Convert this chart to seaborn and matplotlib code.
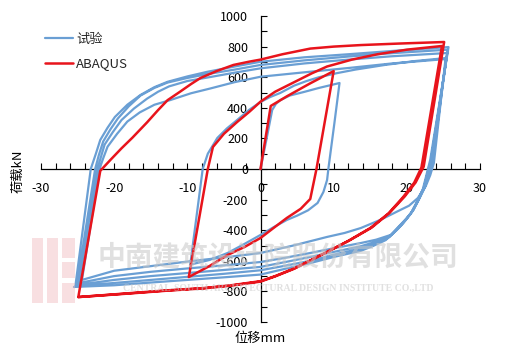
import matplotlib
matplotlib.use("Agg")
import matplotlib.pyplot as plt
from matplotlib.ticker import MultipleLocator
from matplotlib.patches import Rectangle
import seaborn as sns
import pandas as pd

# ---------------- data ----------------
series_names = ["试验", "ABAQUS"]

# Test (blue) hysteresis path: displacement (mm)
test_x = [
    # first small cycle, loading
    0, 0.8, 1.6, 2.1, 2.7, 4.0, 5.9, 8.0, 10.8,
    # small unloading
    10.1, 9.3, 9.1, 8.6, 7.8, 6.5, 5.0, 3.6, 1.8, 0, -2.2, -4.5, -7.0, -9.6,
    # reloading to first large peak
    -7.9, -7.2, -5.9, -4.6, -3.2, -1.6, 0, 1.3, 2.7, 4.6, 6.3, 8.0, 10.5, 13, 17, 21, 25.3,
    # large cycle 1
    23.7, 23.2, 22.6, 21.5, 20.3, 19.1, 16.5, 13.7, 11.5, 9.1, 4.5, 0, -5, -10, -15, -20, -24.4,
    -22.0, -21.5, -20.9, -19.6, -18.2, -16.5, -14.5, -12.3, -9.5, -6.8, -3.5, 0, 6, 12, 18, 25.4,
    # large cycle 2
    23.5, 23.0, 22.5, 21.7, 20.9, 20.0, 19.1, 17.8, 15.8, 13.7, 10, 6.8, 3.4, 0, -5, -10, -15, -20, -24.8,
    -22.3, -21.8, -21.3, -20.2, -19.0, -17.3, -15.5, -14.0, -12.5, -10, -7.0, -3.5, 0, 6, 12, 18, 25.5,
    # large cycle 3
    23.4, 22.9, 22.4, 21.6, 20.8, 19.9, 19.0, 17.6, 15.6, 13.7, 10, 6.8, 3.4, 0, -5, -10, -15, -20, -25.1,
    -22.6, -22.1, -21.5, -20.5, -19.5, -18.0, -16.4, -14.5, -12.7, -10, -7.3, -3.5, 0, 6, 12, 18, 25.6,
    # large cycle 4
    23.3, 22.8, 22.3, 21.5, 20.6, 19.7, 18.8, 17.3, 15.5, 13.7, 10, 6.8, 3.4, 0, -5, -10, -15, -20, -25.3,
    -23.2, -22.5, -21.9, -20.9, -19.9, -18.2, -16.4, -14.5, -12.7, -10, -7.3, -3.5, 0, 6, 12, 19, 25.7,
    # last unloading
    23.2, 22.7, 22.2, 21.4, 20.5, 19.5, 18.6, 17.1, 15.4, 13.7, 10, 6.8, 3.4, 0, -5, -10, -15, -20, -25.5,
]
# Test (blue) load (kN)
test_y = [
    0, 190, 386, 425, 450, 480, 503, 530, 562,
    300, 10, -72, -150, -222, -270, -305, -333, -380, -431, -490, -549, -595, -625,
    0, 100, 203, 265, 320, 385, 438, 470, 497, 545, 575, 600, 627, 650, 680, 705, 725,
    40, -40, -110, -190, -240, -268, -330, -386, -418, -444, -500, -549, -578, -605, -635, -665, -725,
    0, 70, 146, 230, 310, 370, 420, 451, 495, 527, 568, 603, 632, 660, 690, 719,
    50, -35, -117, -195, -268, -320, -366, -431, -462, -484, -518, -549, -580, -608, -630, -650, -672, -700, -745,
    0, 80, 160, 240, 320, 395, 460, 505, 540, 575, 600, 630, 658, 690, 715, 737, 758,
    55, -30, -120, -200, -275, -330, -375, -445, -478, -505, -542, -575, -608, -640, -660, -680, -700, -725, -758,
    0, 90, 180, 260, 330, 410, 480, 530, 565, 595, 620, 650, 680, 710, 735, 757, 780,
    55, -35, -125, -205, -285, -340, -390, -455, -490, -520, -560, -600, -632, -662, -685, -705, -725, -745, -765,
    0, 100, 190, 270, 340, 420, 484, 535, 570, 605, 635, 670, 701, 730, 750, 775, 797,
    60, -35, -130, -215, -295, -355, -400, -465, -503, -535, -575, -615, -652, -690, -708, -725, -742, -760, -771,
]

# ABAQUS (red) path: displacement (mm)
fem_x = [
    0, 1.4, 3.6, 6.8, 10.0,
    7.65, 6.8, 5.5, 3.6, 1.8, 0, -2.2, -4.5, -7.0, -9.8,
    -7.2, -6.5, -5.0, -3.2, -1.5, 0, 2.0, 4.5, 7.0, 9.1, 12.5, 16, 20, 24.8,
    22.0, 21.0, 19.5, 17.5, 15.0, 12.0, 9.1, 6.5, 4.6, 2.0, 0, -4.0, -7.7, -12.7, -18, -24.9,
    -21.9, -20.5, -19.0, -17.5, -15.5, -14.0, -12.7, -11.0, -9.5, -8.2, -6.0, -3.7, -1.5, 0,
    3.0, 6.8, 10.0, 13.7, 19.0, 25.1,
    22.3, 21.2, 19.7, 17.6, 15.2, 12.1, 9.2, 6.6, 4.6, 2.0, 0, -4.0, -7.7, -12.7, -18, -24.9,
]
# ABAQUS (red) load (kN)
fem_y = [
    0, 412, 475, 560, 640,
    0, -196, -260, -320, -385, -451, -510, -562, -635, -706,
    0, 144, 230, 307, 375, 440, 505, 565, 625, 670, 715, 750, 780, 804,
    10, -90, -183, -290, -386, -470, -542, -605, -650, -700, -733, -760, -778, -793, -812, -837,
    -12, 60, 135, 205, 305, 385, 450, 505, 555, 595, 640, 680, 702, 715,
    750, 787, 800, 810, 820, 830,
    15, -88, -180, -288, -383, -468, -540, -603, -652, -702, -736, -762, -780, -795, -814, -837,
]

x_ticks = [-30, -20, -10, 0, 10, 20, 30]
y_ticks = [-1000, -800, -600, -400, -200, 0, 200, 400, 600, 800, 1000]

# ---------------- build table ----------------
df = pd.concat([
    pd.DataFrame({"x": test_x, "y": test_y, "series": series_names[0]}),
    pd.DataFrame({"x": fem_x, "y": fem_y, "series": series_names[1]}),
], ignore_index=True)

# ---------------- style ----------------
sns.set_theme(style="white")
plt.rcParams["font.family"] = ["Noto Sans CJK SC", "DejaVu Sans"]
plt.rcParams["axes.unicode_minus"] = False

fig = plt.figure(figsize=(5.2, 3.52), dpi=100)
fig.patch.set_facecolor("white")
ax = fig.add_axes([41 / 520, 30 / 352, 439 / 520, 306 / 352])
ax.set_facecolor("none")

palette = {"试验": "#6a9fd4", "ABAQUS": "#e8141c"}
for name, lw in [("试验", 1.6), ("ABAQUS", 1.8)]:
    sub = df[df["series"] == name]
    sns.lineplot(data=sub, x="x", y="y", sort=False, estimator=None,
                 color=palette[name], linewidth=lw, ax=ax, label=name)

ax.set_xlim(-30, 30)
ax.set_ylim(-1000, 1000)
ax.set_xticks(x_ticks)
ax.set_yticks(y_ticks)
ax.xaxis.set_minor_locator(MultipleLocator(2))
ax.yaxis.set_minor_locator(MultipleLocator(100))
ax.set_xticklabels([str(v) for v in x_ticks])
ax.set_yticklabels([str(v) for v in y_ticks])

for s in ["top", "right"]:
    ax.spines[s].set_visible(False)
ax.spines["left"].set_position(("data", 0))
ax.spines["bottom"].set_position(("data", 0))
for s in ["left", "bottom"]:
    ax.spines[s].set_color("black")
    ax.spines[s].set_linewidth(0.9)
    ax.spines[s].set_zorder(1)

ax.tick_params(which="both", direction="in", length=4, width=0.8,
               color="black", labelsize=9, labelcolor="black")
ax.tick_params(axis="x", which="both", pad=9.5, bottom=True)
ax.tick_params(axis="y", which="both", pad=9, left=True)
ax.set_xlabel("")
ax.set_ylabel("")

fig.text(260 / 520, 1 - 338 / 352, "位移mm", ha="center", va="center",
         fontsize=9.5, color="black")
fig.text(18 / 520, 1 - 171 / 352, "荷载kN", ha="center", va="center",
         rotation=90, fontsize=9.5, color="black")

handles, labels = ax.get_legend_handles_labels()
ax.legend(handles, labels, loc="upper left",
          bbox_to_anchor=(45 / 520, 1 - 33 / 352),
          bbox_transform=fig.transFigure, frameon=False, fontsize=9.5,
          handlelength=2.1, handletextpad=0.25, labelspacing=0.85,
          borderpad=0, borderaxespad=0)

# faint watermark as in the reference
for (x0, y0, w, h) in [(32, 238, 11, 65), (47, 238, 11, 65),
                       (62, 238, 13, 20), (62, 262, 13, 16), (62, 283, 13, 20)]:
    fig.patches.append(Rectangle((x0 / 520, 1 - (y0 + h) / 352), w / 520, h / 352,
                                 transform=fig.transFigure, color="#f0b8bd",
                                 alpha=0.45, zorder=5, linewidth=0))
fig.text(278 / 520, 1 - 258 / 352, "中南建筑设计院股份有限公司", ha="center",
         va="center", fontsize=20, fontweight="bold", color="#c8c8c8",
         alpha=0.55, zorder=6)
fig.text(278 / 520, 1 - 288 / 352,
         "CENTRAL-SOUTH ARCHITECTURAL DESIGN INSTITUTE CO.,LTD", ha="center",
         va="center", fontsize=7, fontweight="bold", family="Liberation Serif",
         color="#c8c8c8", alpha=0.55, zorder=6)

fig.savefig("out.png", dpi=100, facecolor="white")
